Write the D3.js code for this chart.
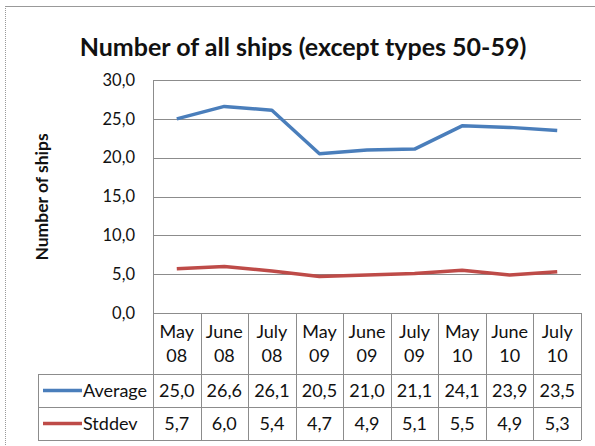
<!DOCTYPE html>
<html>
<head>
<meta charset="utf-8">
<title>Number of all ships</title>
<script src="https://d3js.org/d3.v7.min.js"></script>
<style>
  body { margin: 0; background: #fff; }
  text { font-family: Lato, "Open Sans", sans-serif; fill: #111; }
</style>
</head>
<body>
<script>
// data
var months = ["May 08", "June 08", "July 08", "May 09", "June 09", "July 09", "May 10", "June 10", "July 10"];
var average = [25.0, 26.6, 26.1, 20.5, 21.0, 21.1, 24.1, 23.9, 23.5];
var stddev = [5.7, 6.0, 5.4, 4.7, 4.9, 5.1, 5.5, 4.9, 5.3];
var yTicks = [0, 5, 10, 15, 20, 25, 30];
var seriesNames = ["Average", "Stddev"];
var seriesColors = ["#4a7ebb", "#be4b48"];

var width = 595, height = 446;
var fmt = function (v) { return d3.format(".1f")(v).replace(".", ","); };

var svg = d3.select("body").append("svg")
    .attr("width", width)
    .attr("height", height);

// chart frame
svg.append("line").attr("x1", 5.5).attr("x2", 5.5).attr("y1", 6).attr("y2", height)
    .attr("stroke", "#999").attr("stroke-dasharray", "1,1");
svg.append("line").attr("x1", 5).attr("x2", width).attr("y1", 6.5).attr("y2", 6.5)
    .attr("stroke", "#999");

svg.append("text")
    .attr("x", 303).attr("y", 56)
    .attr("text-anchor", "middle")
    .style("font-size", "25px").style("font-weight", "bold")
    .text("Number of all ships (except types 50-59)");

var plotL = 153, plotR = 581, plotT = 80, plotB = 313;
var tableLeft = 38;
var rowBottoms = [374, 407, 440];

var x = d3.scaleBand().domain(months).range([plotL, plotR]);
var y = d3.scaleLinear().domain([0, 30]).range([plotB, plotT]);

var grid = "#8c8c8c";

// gridlines
svg.append("g").selectAll("line").data(yTicks).join("line")
    .attr("x1", plotL).attr("x2", plotR)
    .attr("y1", d => Math.round(y(d)) + 0.5).attr("y2", d => Math.round(y(d)) + 0.5)
    .attr("stroke", grid);

// y axis labels
svg.append("g").selectAll("text").data(yTicks).join("text")
    .attr("x", 135).attr("y", d => y(d))
    .attr("dy", "0.35em")
    .attr("text-anchor", "end")
    .style("font-size", "16.5px")
    .text(fmt);

svg.append("text")
    .attr("transform", "translate(48,197) rotate(-90)")
    .attr("text-anchor", "middle")
    .style("font-size", "17.5px").style("font-weight", "bold")
    .text("Number of ships");

// data table lines
var vx = months.map(m => x(m)).concat([plotR]);
svg.append("g").selectAll("line").data(vx).join("line")
    .attr("x1", d => Math.round(d) + 0.5).attr("x2", d => Math.round(d) + 0.5)
    .attr("y1", (d, i) => i == 0 ? plotT : plotB).attr("y2", rowBottoms[2])
    .attr("stroke", grid);
svg.append("line")
    .attr("x1", tableLeft + 0.5).attr("x2", tableLeft + 0.5)
    .attr("y1", rowBottoms[0]).attr("y2", rowBottoms[2])
    .attr("stroke", grid);
svg.append("g").selectAll("line").data(rowBottoms).join("line")
    .attr("x1", tableLeft).attr("x2", plotR)
    .attr("y1", d => d + 0.5).attr("y2", d => d + 0.5)
    .attr("stroke", grid);

// category headers
var head = svg.append("g").selectAll("text").data(months).join("text")
    .attr("text-anchor", "middle")
    .style("font-size", "18px");
head.append("tspan")
    .attr("x", d => x(d) + x.bandwidth() / 2).attr("y", 338)
    .text(d => d.split(" ")[0]);
head.append("tspan")
    .attr("x", d => x(d) + x.bandwidth() / 2).attr("y", 362)
    .text(d => d.split(" ")[1]);

// series
var series = [average, stddev];
var line = d3.line()
    .x((d, i) => x(months[i]) + x.bandwidth() / 2)
    .y(d => y(d));

series.forEach(function (vals, k) {
    svg.append("path")
        .datum(vals)
        .attr("d", line)
        .attr("fill", "none")
        .attr("stroke", seriesColors[k])
        .attr("stroke-width", 3.5)
        .attr("stroke-linejoin", "round");

    var rowMid = (rowBottoms[k] + rowBottoms[k + 1]) / 2;
    svg.append("line")
        .attr("x1", 43).attr("x2", 82)
        .attr("y1", rowMid).attr("y2", rowMid)
        .attr("stroke", seriesColors[k]).attr("stroke-width", 3.5);
    svg.append("text")
        .attr("x", 83).attr("y", rowMid).attr("dy", "0.35em")
        .style("font-size", "18px")
        .text(seriesNames[k]);
    svg.append("g").selectAll("text").data(vals).join("text")
        .attr("x", (d, i) => x(months[i]) + x.bandwidth() / 2)
        .attr("y", rowMid).attr("dy", "0.35em")
        .attr("text-anchor", "middle")
        .style("font-size", "18px")
        .text(fmt);
});
</script>
</body>
</html>
